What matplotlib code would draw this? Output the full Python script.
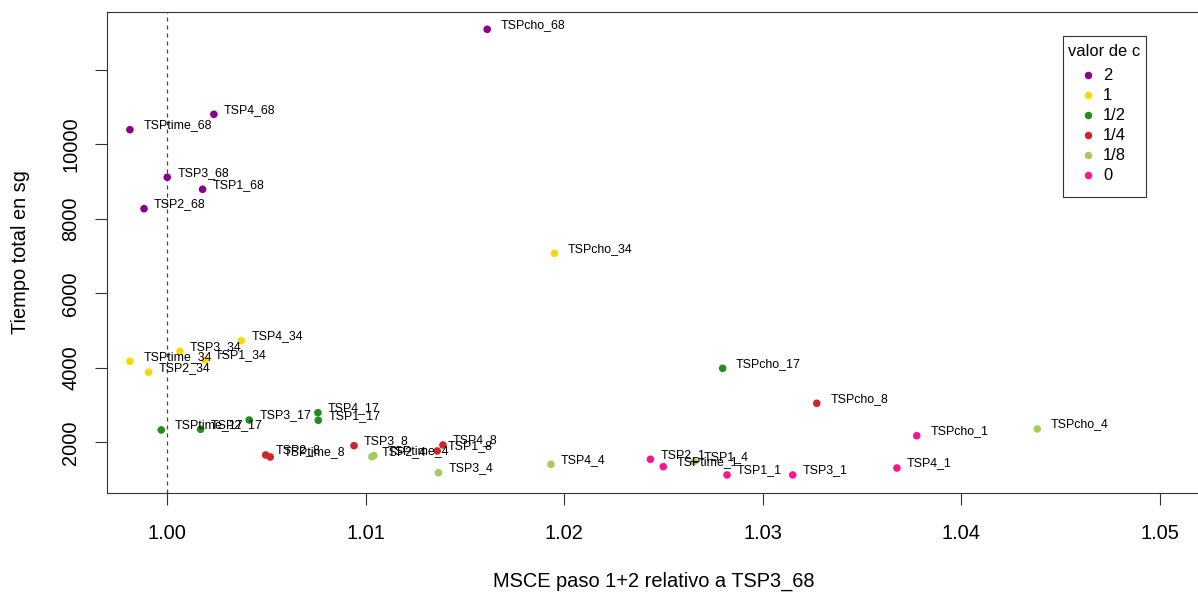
import matplotlib
matplotlib.use("Agg")
import matplotlib.pyplot as plt
from matplotlib.lines import Line2D
from matplotlib.patches import Rectangle

plt.rcParams['font.family'] = ['Liberation Sans', 'DejaVu Sans']

# valores de c y colores
grupos = ['2', '1', '1/2', '1/4', '1/8', '0']
sufijos = ['68', '34', '17', '8', '4', '1']
colores = ['#8B008B', '#FFD700', '#228B22', '#CD2626', '#A2CD5A', '#FF1493']
metodos = ['TSP1', 'TSP2', 'TSP3', 'TSP4', 'TSPtime', 'TSPcho']

# MSCE paso 1+2 relativo a TSP3_68 (orden de metodos)
msce_68 = [1.00178, 0.99883, 1.00000, 1.00235, 0.99812, 1.01612]
msce_34 = [1.00191, 0.99906, 1.00064, 1.00373, 0.99812, 1.01951]
msce_17 = [1.00761, 1.00168, 1.00413, 1.00759, 0.99970, 1.02798]
msce_8 = [1.01360, 1.00496, 1.00941, 1.01389, 1.00519, 1.03272]
msce_4 = [1.02654, 1.01031, 1.01366, 1.01933, 1.01041, 1.04383]
msce_1 = [1.02820, 1.02434, 1.03151, 1.03676, 1.02499, 1.03776]

# tiempo total en sg
tiempo_68 = [8788, 8268, 9110, 10799, 10386, 13078]
tiempo_34 = [4212, 3882, 4445, 4729, 4177, 7072]
tiempo_17 = [2595, 2354, 2603, 2799, 2335, 3989]
tiempo_8 = [1772, 1665, 1914, 1933, 1611, 3051]
tiempo_4 = [1485, 1619, 1190, 1416, 1650, 2362]
tiempo_1 = [1129, 1550, 1129, 1316, 1351, 2182]

msce = [msce_68, msce_34, msce_17, msce_8, msce_4, msce_1]
tiempo = [tiempo_68, tiempo_34, tiempo_17, tiempo_8, tiempo_4, tiempo_1]

xticks = [1.00, 1.01, 1.02, 1.03, 1.04, 1.05]
yticks = [2000, 4000, 6000, 8000, 10000, 12000]

W, H = 1198, 593
fig = plt.figure(figsize=(W / 100, H / 100), dpi=100)
# caja del grafico en pixeles: izq 107, der ~1201, arriba 12, abajo 493
ax = fig.add_axes([107.3 / W, 1 - 492.8 / H, (1201 - 107.3) / W, (492.8 - 12.1) / H])

ax.axvline(1.0, color='#444444', lw=0.9, ls=(0, (3.2, 3.2)), zorder=1)

for g, col, xs, ys, suf in zip(grupos, colores, msce, tiempo, sufijos):
    ax.scatter(xs, ys, s=30, color=col, edgecolors='none', zorder=3)
    for m, x, y in zip(metodos, xs, ys):
        dx = 13.5 if m in ('TSPtime', 'TSPcho') else 10
        ax.annotate(f'{m}_{suf}', (x, y), xytext=(dx * 0.72, 4.5 * 0.72),
                    textcoords='offset points', fontsize=8.9,
                    va='center', ha='left', zorder=4)

ax.set_xlim(0.99698, 1.05208)
ax.set_ylim(651, 13539)

ax.set_xticks(xticks)
ax.set_xticklabels([f'{t:.2f}' for t in xticks])
ax.set_yticks(yticks)
ax.set_yticklabels([str(t) if t < 12000 else '' for t in yticks],
                   rotation=90, va='center')
ax.tick_params(axis='both', direction='out', length=8.6, width=0.8,
               labelsize=14.4, color='#333333')
ax.tick_params(axis='x', pad=14.2)
ax.tick_params(axis='y', pad=11)

for side in ('left', 'top', 'bottom'):
    ax.spines[side].set_linewidth(0.8)
    ax.spines[side].set_color('#333333')
ax.spines['right'].set_visible(False)

fig.text(654 / W, 1 - 581 / H, 'MSCE paso 1+2 relativo a TSP3_68',
         ha='center', va='center', fontsize=14.4)
fig.text(21 / W, 1 - 252.5 / H, 'Tiempo total en sg', ha='center',
         va='center', rotation=90, fontsize=14.4)

# leyenda: marco, titulo y entradas
fig.add_artist(Rectangle((1062.7 / W, 1 - 196.7 / H), 83 / W, 161 / H,
                         transform=fig.transFigure, fill=False,
                         lw=0.8, edgecolor='#333333'))
fig.text(1104.2 / W, 1 - 51 / H, 'valor de c', ha='center', va='center',
         fontsize=11.9)
handles = [Line2D([], [], ls='none', marker='o', markersize=5.4,
                  markerfacecolor=c, markeredgecolor='none') for c in colores]
ax.legend(handles, grupos, loc='upper left',
          bbox_to_anchor=(1082.2 / W, 1 - 68.5 / H),
          bbox_transform=fig.transFigure, fontsize=11.9, frameon=False,
          borderpad=0, labelspacing=0.3, handlelength=0.67,
          handletextpad=0.6, borderaxespad=0)

fig.savefig('out.png', dpi=100)
